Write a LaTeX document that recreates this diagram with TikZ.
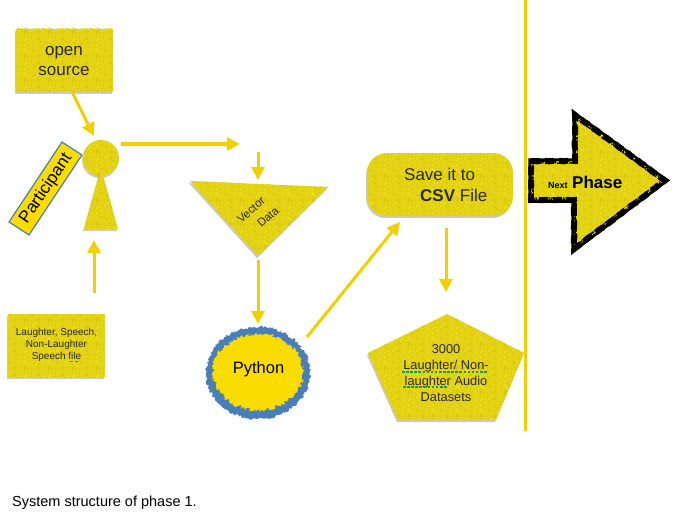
\documentclass[tikz,border=0pt]{standalone}
\usepackage{fontspec}
\setmainfont{Liberation Sans}
\usetikzlibrary{arrows.meta,decorations.pathmorphing,shadows,patterns}
\definecolor{grainy}{HTML}{E4D314}
\definecolor{graindark}{HTML}{D4C308}
\definecolor{grainlight}{HTML}{EEDE1E}
\definecolor{flow}{HTML}{F2D000}
\definecolor{pure}{HTML}{FADC00}
\definecolor{edgeblue}{HTML}{4A7EBB}
\definecolor{squig}{HTML}{10A040}
\definecolor{txt}{HTML}{2A2A2A}
\pgfdeclarepatternformonly{grainD}{\pgfqpoint{0pt}{0pt}}{\pgfqpoint{24pt}{24pt}}{\pgfqpoint{24pt}{24pt}}{%
  \pgfmathsetseed{7}%
  \foreach \i in {1,...,110}{\pgfmathsetmacro\xa{rnd*23}\pgfmathsetmacro\ya{rnd*23}%
    \pgfpathrectangle{\pgfpoint{\xa pt}{\ya pt}}{\pgfqpoint{1pt}{1pt}}}%
  \pgfusepath{fill}}
\pgfdeclarepatternformonly{grainL}{\pgfqpoint{0pt}{0pt}}{\pgfqpoint{24pt}{24pt}}{\pgfqpoint{24pt}{24pt}}{%
  \pgfmathsetseed{23}%
  \foreach \i in {1,...,110}{\pgfmathsetmacro\xa{rnd*23}\pgfmathsetmacro\ya{rnd*23}%
    \pgfpathrectangle{\pgfpoint{\xa pt}{\ya pt}}{\pgfqpoint{1pt}{1pt}}}%
  \pgfusepath{fill}}
\tikzset{
  x=1pt,y=-1pt,
  grainfill/.style={fill=grainy,postaction={pattern=grainD,pattern color=graindark},postaction={pattern=grainL,pattern color=grainlight}},
  grainshape/.style={grainfill,draw=none,drop shadow={shadow xshift=-1pt,shadow yshift=-2.2pt,opacity=.3,fill=black!70}},
  flowarrow/.style={draw=flow,line width=3pt,-{Triangle[length=13pt,width=13pt]}},
  label/.style={text=txt,align=center,inner sep=0pt},
  wavy/.style={draw=squig,line width=1.5pt,dash pattern=on 2.6pt off 1.5pt},
}
\begin{document}
\begin{tikzpicture}
\useasboundingbox (0,0) rectangle (677,516);
% shapes
\path[grainshape] (16,29) rectangle (113,92);
\path[fill=pure,draw=edgeblue,line width=1.2pt] (62,142) -- (82,155) -- (29,235) -- (9,222) -- cycle;
\path[grainshape] (101,158) circle[radius=18];
\path[grainshape] (84,229) -- (101,168) -- (118,229) -- cycle;
\path[grainshape] (8,314) rectangle (105,377);
\path[grainshape] (190,181) -- (328,187) -- (258,256) -- cycle;
\path[fill=edgeblue,decorate,decoration={random steps,segment length=1.3pt,amplitude=1.4pt}] (258,373) ellipse[x radius=52,y radius=46];
\path[fill=pure,decorate,decoration={random steps,segment length=1.3pt,amplitude=2pt}] (258,372) ellipse[x radius=45,y radius=38];
\path[grainshape,rounded corners=20pt] (367,153) rectangle (513,216);
\path[grainshape] (447,314) -- (524,353) -- (496,420) -- (398,420) -- (368,353) -- cycle;
\draw[flow,line width=3pt] (525,0) -- (525,431);
\path[grainfill,draw=black,line width=5.5pt,miter limit=10]
  (531,161) -- (575,161) -- (575,115) -- (665,180.5) -- (574,249) -- (574,200) -- (531,200) -- cycle;
\path[draw=black,line width=6pt,dash pattern=on 9pt off 5pt,decorate,decoration={random steps,segment length=3pt,amplitude=.35pt}]
  (531,161) -- (575,161) -- (575,115) -- (665,180.5) -- (574,249) -- (574,200) -- (531,200) -- cycle;
% texts
\node[label,font=\fontsize{17}{20.5}\selectfont] (osT) at (64,61) {open\\source};
\node[label,font=\fontsize{17}{20}\selectfont,rotate=56,text=black] (partT) at (46,188.5) {Participant};
\node[label,font=\fontsize{10}{12}\selectfont] (lsT) at (56.5,345) {Laughter, Speech,\\Non-Laughter\\Speech file};
\node[label,font=\fontsize{11.5}{14}\selectfont,rotate=41] (vT) at (251,210) {Vector};
\node[label,font=\fontsize{11.5}{14}\selectfont,rotate=41] (dT) at (268,217) {Data};
\node[label,font=\fontsize{16.5}{20}\selectfont,text=black] (pyT) at (258.5,369.5) {Python};
\node[label,font=\fontsize{17}{20}\selectfont,anchor=west] (svT) at (404,174.5) {Save it to};
\node[label,font=\fontsize{17}{20}\selectfont,anchor=west] (csvT) at (420,195) {\textbf{CSV} File};
\node[label,font=\fontsize{12.8}{16}\selectfont] (dsT) at (446,373) {3000\\Laughter/ Non-\\laughter Audio\\Datasets};
\node[label,font=\bfseries\fontsize{9}{10}\selectfont,anchor=west,text=black] (nxT) at (548,185) {Next};
\node[label,font=\bfseries\fontsize{17}{18}\selectfont,anchor=west,text=black] (phT) at (572,182.5) {Phase};
\node[label,font=\fontsize{14.5}{16}\selectfont,anchor=west,text=black] (capT) at (12,503) {System structure of phase 1.};
% spell-check marks
\coordinate (w1a) at (402,372); \coordinate (w1b) at (487,372);
\coordinate (w2a) at (403,387); \coordinate (w2b) at (447,387);
\coordinate (w3a) at (69.5,361.5); \coordinate (w3b) at (79,361.5);
\draw[wavy] (w1a) -- (w1b);
\draw[wavy] (w2a) -- (w2b);
\draw[wavy,dash pattern=on 3pt off 2.5pt] (w3a) -- (w3b);
% connectors
\coordinate (a1s) at (72,92);   \coordinate (a1e) at (94,136);
\coordinate (a2s) at (121,144); \coordinate (a2e) at (240,144);
\coordinate (a3s) at (94,293);  \coordinate (a3e) at (94,240);
\coordinate (a4s) at (258,152); \coordinate (a4e) at (258,180);
\coordinate (a5s) at (258,260); \coordinate (a5e) at (258,324);
\coordinate (a6s) at (307,337); \coordinate (a6e) at (400,222);
\coordinate (a7s) at (446,228); \coordinate (a7e) at (446,292);
\draw[flowarrow] (a1s) -- (a1e);
\draw[flowarrow] (a2s) -- (a2e);
\draw[flowarrow] (a3s) -- (a3e);
\draw[flowarrow] (a4s) -- (a4e);
\draw[flowarrow] (a5s) -- (a5e);
\draw[flowarrow] (a6s) -- (a6e);
\draw[flowarrow] (a7s) -- (a7e);
\end{tikzpicture}
\end{document}
